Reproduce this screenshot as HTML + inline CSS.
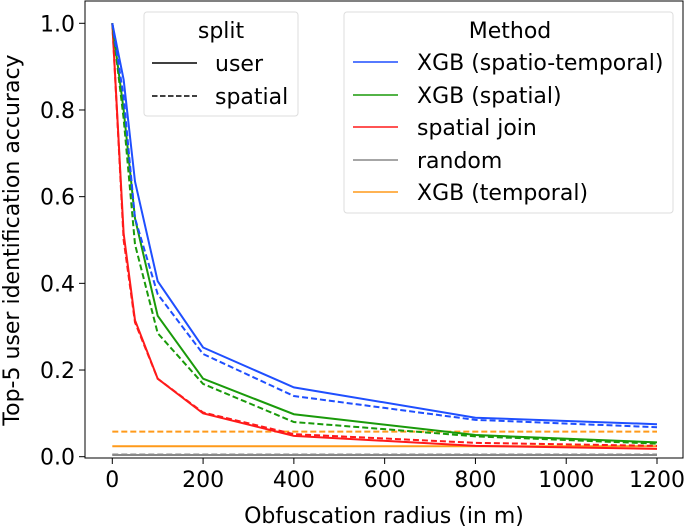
<!DOCTYPE html>
<html><head><meta charset="utf-8"><style>
html,body{margin:0;padding:0;background:#fff}
svg{display:block;font-family:"DejaVu Sans","Liberation Sans",sans-serif}
</style></head><body>
<svg id="chart" width="685" height="527" viewBox="0 0 685 527">
<rect x="85" y="1" width="598" height="457" fill="none" stroke="#000" stroke-width="1"/>
<g id="series"></g>
<g id="xticks"></g>
<g id="yticks"></g>
<text x="384" y="523" font-size="22" text-anchor="middle">Obfuscation radius (in m)</text>
<text transform="translate(19,240) rotate(-90)" font-size="22" text-anchor="middle">Top-5 user identification accuracy</text>
<g>
<rect x="144" y="12" width="154" height="104" rx="3" fill="#fff" fill-opacity="0.8" stroke="#ddd"/>
<text x="221" y="38" font-size="22" text-anchor="middle">split</text>
<line x1="152" y1="63" x2="197" y2="63" stroke="#000" stroke-width="1.5"/>
<text x="215" y="71" font-size="22">user</text>
<line x1="152" y1="96" x2="197" y2="96" stroke="#000" stroke-width="1.5" stroke-dasharray="5.5,2.5"/>
<text x="215" y="104" font-size="22">spatial</text>
</g>
<g>
<rect x="344" y="12" width="329" height="201" rx="3" fill="#fff" fill-opacity="0.8" stroke="#ddd"/>
<text x="510" y="38" font-size="22" text-anchor="middle">Method</text>
<line x1="353" y1="62" x2="398" y2="62" stroke="#1f4fff" stroke-width="1.5"/>
<text x="417" y="70" font-size="22">XGB (spatio-temporal)</text>
<line x1="353" y1="95" x2="398" y2="95" stroke="#1a9a0a" stroke-width="1.5"/>
<text x="417" y="103" font-size="22">XGB (spatial)</text>
<line x1="353" y1="127" x2="398" y2="127" stroke="#ff1a1a" stroke-width="1.5"/>
<text x="417" y="135" font-size="22">spatial join</text>
<line x1="353" y1="160" x2="398" y2="160" stroke="#888" stroke-width="1.5"/>
<text x="417" y="168" font-size="22">random</text>
<line x1="353" y1="192" x2="398" y2="192" stroke="#ff9a1a" stroke-width="1.5"/>
<text x="417" y="200" font-size="22">XGB (temporal)</text>
</g>
</svg>
<script>
const radii = [0, 25, 50, 100, 200, 400, 800, 1200];
const blueUser = [1.0, 0.87, 0.635, 0.405, 0.252, 0.16, 0.09, 0.075];
const blueSpatial = [1.0, 0.83, 0.55, 0.375, 0.237, 0.14, 0.085, 0.068];
const greenUser = [1.0, 0.80, 0.55, 0.325, 0.18, 0.098, 0.05, 0.033];
const greenSpatial = [1.0, 0.78, 0.49, 0.285, 0.168, 0.08, 0.047, 0.03];
const redUser = [1.0, 0.515, 0.315, 0.18, 0.10, 0.048, 0.025, 0.018];
const redSpatial = [1.0, 0.50, 0.31, 0.18, 0.102, 0.052, 0.032, 0.025];
const grayUser = [0.004, 0.004, 0.004, 0.004, 0.004, 0.004, 0.004, 0.004];
const graySpatial = [0.005, 0.005, 0.005, 0.005, 0.005, 0.005, 0.005, 0.005];
const orangeUser = [0.024, 0.024, 0.024, 0.024, 0.024, 0.024, 0.024, 0.024];
const orangeSpatial = [0.058, 0.058, 0.058, 0.058, 0.058, 0.058, 0.058, 0.058];
const xTickValues = [0, 200, 400, 600, 800, 1000, 1200];
const yTickValues = [0.0, 0.2, 0.4, 0.6, 0.8, 1.0];

const NS = "http://www.w3.org/2000/svg";
const xs = v => 112.3 + v * (657 - 112.3) / 1200;
const ys = v => 456.7 - v * (456.7 - 23.3);

const series = [
  [grayUser, "#888", false, "random-user"],
  [graySpatial, "#888", true, "random-spatial"],
  [orangeUser, "#ff9a1a", false, "temporal-user"],
  [orangeSpatial, "#ff9a1a", true, "temporal-spatial"],
  [redUser, "#ff1a1a", false, "spatial-join-user"],
  [redSpatial, "#ff1a1a", true, "spatial-join-spatial"],
  [greenUser, "#1a9a0a", false, "xgb-spatial-user"],
  [greenSpatial, "#1a9a0a", true, "xgb-spatial-spatial"],
  [blueUser, "#1f4fff", false, "xgb-spatiotemporal-user"],
  [blueSpatial, "#1f4fff", true, "xgb-spatiotemporal-spatial"]
];
const sg = document.getElementById("series");
series.forEach(s => {
  const p = document.createElementNS(NS, "polyline");
  p.setAttribute("points", s[0].map((v, i) => xs(radii[i]) + "," + ys(v)).join(" "));
  p.setAttribute("fill", "none");
  p.setAttribute("stroke", s[1]);
  p.setAttribute("stroke-width", "2");
  if (s[2]) p.setAttribute("stroke-dasharray", "6,3");
  
  
  sg.appendChild(p);
});
const xg = document.getElementById("xticks");
xTickValues.forEach(v => {
  const l = document.createElementNS(NS, "line");
  l.setAttribute("x1", xs(v)); l.setAttribute("x2", xs(v));
  l.setAttribute("y1", 458); l.setAttribute("y2", 464);
  l.setAttribute("stroke", "#000");
  
  
  xg.appendChild(l);
  const t = document.createElementNS(NS, "text");
  t.setAttribute("x", xs(v)); t.setAttribute("y", 487);
  t.setAttribute("font-size", "22"); t.setAttribute("text-anchor", "middle");
  t.textContent = v;
  
  
  xg.appendChild(t);
});
const yg = document.getElementById("yticks");
yTickValues.forEach(v => {
  const l = document.createElementNS(NS, "line");
  l.setAttribute("x1", 79); l.setAttribute("x2", 85);
  l.setAttribute("y1", ys(v)); l.setAttribute("y2", ys(v));
  l.setAttribute("stroke", "#000");
  
  
  yg.appendChild(l);
  const t = document.createElementNS(NS, "text");
  t.setAttribute("x", 75); t.setAttribute("y", ys(v) + 8);
  t.setAttribute("font-size", "22"); t.setAttribute("text-anchor", "end");
  t.textContent = v.toFixed(1);
  
  
  yg.appendChild(t);
});
</script>
</body></html>
